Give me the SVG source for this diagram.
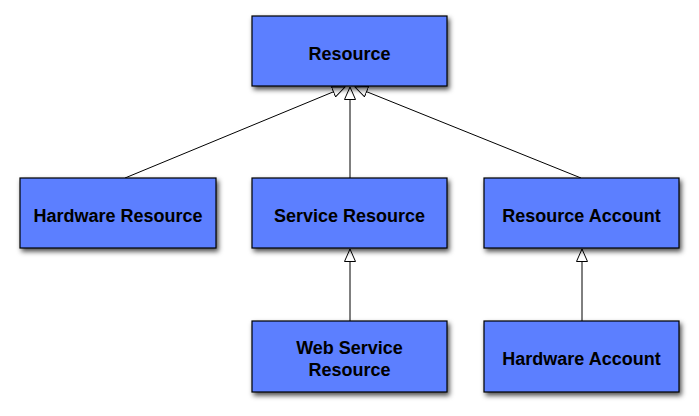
<svg xmlns="http://www.w3.org/2000/svg" width="699" height="416" viewBox="0 0 699 416">
<defs>
<filter id="sh" x="-10%" y="-10%" width="125%" height="140%">
<feDropShadow dx="2" dy="3" stdDeviation="2.5" flood-color="#000" flood-opacity="0.7"/>
</filter>
<marker id="tri" markerUnits="userSpaceOnUse" markerWidth="14" markerHeight="12" refX="13" refY="6" orient="auto" viewBox="0 0 14 12">
<path d="M0.5,0.5 L13,6 L0.5,11.5 z" fill="#fff" stroke="#000" stroke-width="1"/>
</marker>
<style>
.box{fill:#5b7fff;stroke:#000;stroke-width:1.2;filter:url(#sh)}
.lbl{font-family:"Liberation Sans",Arial,sans-serif;font-weight:bold;font-size:18px;fill:#000;text-anchor:middle}
.c{stroke:#000;stroke-width:1;fill:none;marker-end:url(#tri)}
</style>
</defs>
<rect width="699" height="416" fill="#fff"/>
<g id="connectors">
<line class="c" x1="125" y1="178" x2="345" y2="87"/>
<line class="c" x1="350" y1="178" x2="350" y2="87"/>
<line class="c" x1="581" y1="178" x2="355" y2="87"/>
<line class="c" x1="350" y1="321" x2="350" y2="249"/>
<line class="c" x1="582" y1="321" x2="582" y2="249"/>
</g>
<g id="resource"><rect class="box" x="252" y="16" width="195" height="70"/><text class="lbl" x="349.5" y="60">Resource</text></g>
<g id="hardware-resource"><rect class="box" x="20" y="178" width="196" height="70"/><text class="lbl" x="118" y="222">Hardware Resource</text></g>
<g id="service-resource"><rect class="box" x="252" y="178" width="195" height="70"/><text class="lbl" x="349.5" y="222">Service Resource</text></g>
<g id="resource-account"><rect class="box" x="484" y="178" width="195" height="70"/><text class="lbl" x="581.5" y="222">Resource Account</text></g>
<g id="web-service-resource"><rect class="box" x="252" y="321" width="195" height="71"/><text class="lbl" x="349.5" y="354">Web Service</text><text class="lbl" x="349.5" y="376">Resource</text></g>
<g id="hardware-account"><rect class="box" x="484" y="321" width="195" height="71"/><text class="lbl" x="581.5" y="365">Hardware Account</text></g>
</svg>
